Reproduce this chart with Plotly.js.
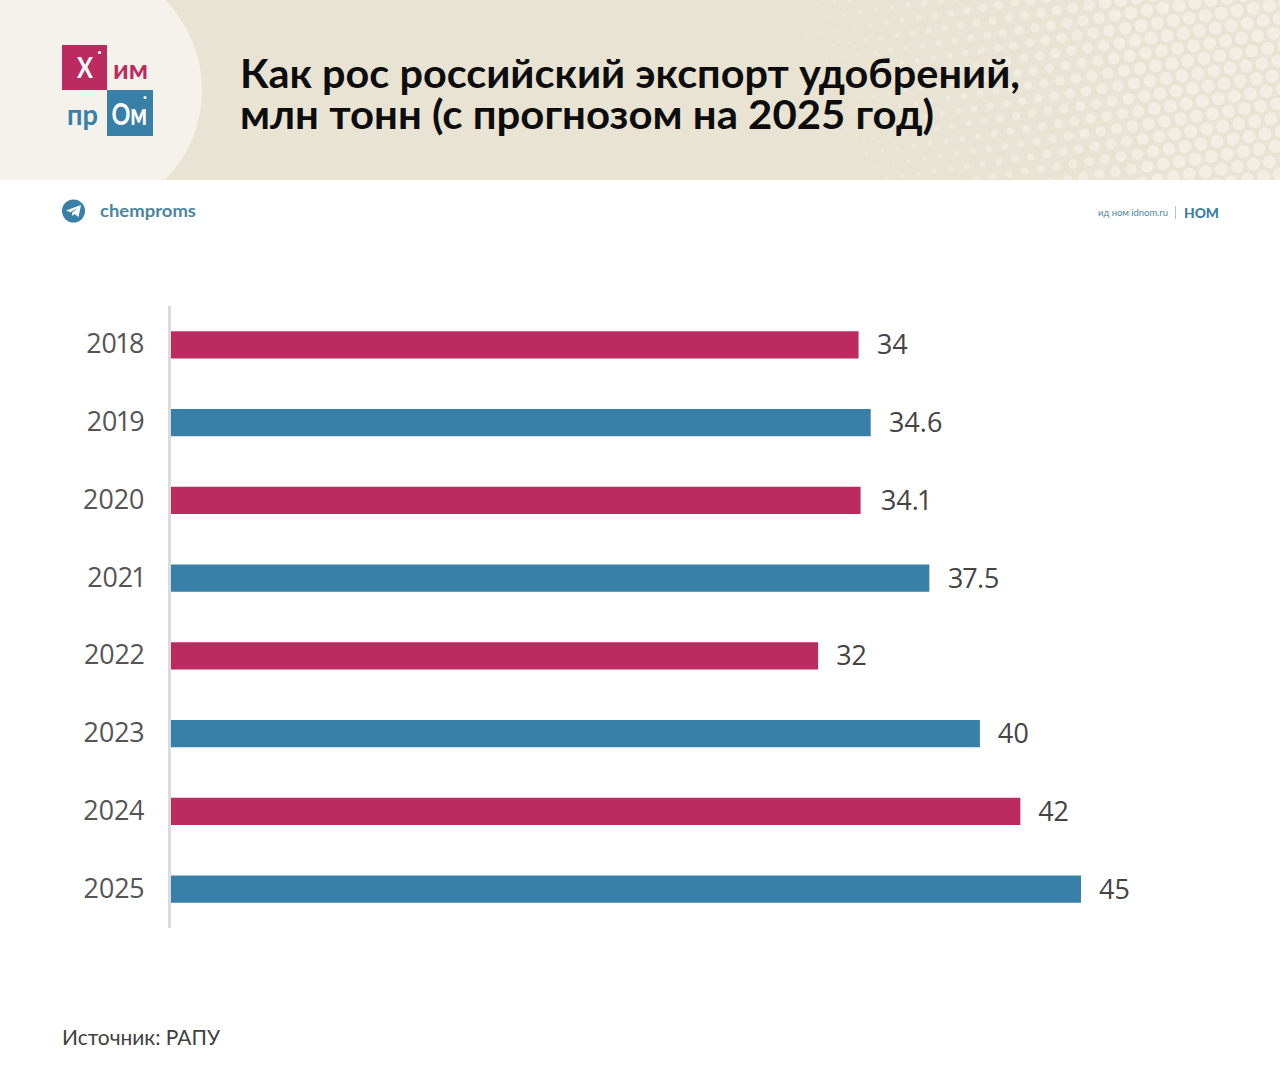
<!DOCTYPE html>
<html>
<head>
<meta charset="utf-8">
<script src="https://cdn.plot.ly/plotly-3.0.1.min.js"></script>
<style>
  html, body { margin: 0; padding: 0; background: #fff; }
  #page { position: relative; width: 1280px; height: 1079px; overflow: hidden; }
  #bg, #graph-div { position: absolute; left: 0; top: 0; width: 1280px; height: 1079px; }
  #bg text { font-family: "Lato", sans-serif; }
  #graph-div text { font-variant-numeric: proportional-nums; font-feature-settings: "pnum" 1; }
</style>
</head>
<body>
<div id="page">
  <svg id="bg" xmlns="http://www.w3.org/2000/svg" width="1280" height="1079" viewBox="0 0 1280 1079">
    <defs><filter id="soft"><feGaussianBlur stdDeviation="0.7"/></filter></defs>
    <rect x="0" y="0" width="1280" height="180" fill="#e9e3d3"/>
    <g id="dots" filter="url(#soft)"></g>
    <circle cx="74" cy="90" r="128" fill="#f5f2ec"/>
    <rect x="0" y="180" width="1280" height="899" fill="#fff"/>

    <rect x="62" y="45" width="45" height="45" fill="#bc2b60"/>
    <rect x="107" y="90" width="46" height="46" fill="#3880a8"/>
    <circle cx="99.5" cy="52.5" r="1.6" fill="#fff"/>
    <circle cx="145" cy="97.5" r="1.6" fill="#fff"/>
    <text x="77" y="78" font-size="29" font-weight="700" fill="#fff" textLength="16" lengthAdjust="spacingAndGlyphs">Х</text>
    <text x="113" y="79" font-size="27" font-weight="700" fill="#bc2b60" textLength="35" lengthAdjust="spacingAndGlyphs">им</text>
    <text x="67" y="125" font-size="28" font-weight="700" fill="#3880a8" textLength="31" lengthAdjust="spacingAndGlyphs">пр</text>
    <text x="111.5" y="125" font-size="30" font-weight="700" fill="#fff" textLength="35.5" lengthAdjust="spacingAndGlyphs">Ом</text>

    <text x="240" y="88" font-size="40" font-weight="700" fill="#0d0d0d" textLength="780" lengthAdjust="spacingAndGlyphs">Как рос российский экспорт удобрений,</text>
    <text x="240" y="129" font-size="40" font-weight="700" fill="#0d0d0d" textLength="694" lengthAdjust="spacingAndGlyphs">млн тонн (с прогнозом на 2025 год)</text>

    <circle cx="73.5" cy="211" r="11.5" fill="#3880a8"/>
    <path d="M66 210.5 L81 205 L78.5 217 L74.5 214 L72.5 216 L72 212.8 L78 207.8 L70.5 212.2 Z" fill="#fff"/>
    <text x="100" y="216.5" font-size="16.5" font-weight="700" fill="#4a86a3" textLength="96" lengthAdjust="spacingAndGlyphs">chemproms</text>

    <text x="1098" y="216" font-size="9" fill="#4a86a3" textLength="70" lengthAdjust="spacingAndGlyphs">ид ном idnom.ru</text>
    <rect x="1175" y="206" width="1" height="13" fill="#a9c4d2"/>
    <text x="1184" y="218" font-size="14" font-weight="900" fill="#3880a8" textLength="35" lengthAdjust="spacingAndGlyphs">НОМ</text>

    <text x="62" y="1045" font-size="21" fill="#3f3f3f" textLength="158" lengthAdjust="spacingAndGlyphs">Источник: РАПУ</text>
  </svg>
  <div id="graph-div"></div>
</div>
<script>
var years = ["2018", "2019", "2020", "2021", "2022", "2023", "2024", "2025"];
var exports_mt = [34, 34.6, 34.1, 37.5, 32, 40, 42, 45];
var value_labels = ["34", "34.6", "34.1", "37.5", "32", "40", "42", "45"];
var crimson = "#bc2b60";
var blue = "#3880a8";

// halftone in the header, grows to the right and fades to the bottom left
var out = "";
for (let i = -60; i < 60; ++i) {
  for (let j = -20; j < 40; ++j) {
    var x = 760 + i * 16 + j * 10.2;
    var y = 0 - i * 2.5 + j * 12.6;
    if (x < 760 || x > 1295 || y < -8 || y > 188) continue;
    var t = Math.min(1, (x - 790 - y * 0.35) / 340);
    if (t <= 0) continue;
    var r = 1 + 5.4 * t;
    out += '<circle cx="' + x.toFixed(1) + '" cy="' + y.toFixed(1) + '" r="' + r.toFixed(2) + '" fill="#f5f2ea" opacity="' + (0.3 + 0.45 * t).toFixed(2) + '"/>';
  }
}
document.getElementById("dots").innerHTML = out;

window.onload = function() {
  var colors = [];
  for (let i = 0; i < years.length; ++i) {
    colors.push(i % 2 == 0 ? crimson : blue);
  }
  var ann = [];
  for (let i = 0; i < years.length; ++i) {
    // numeric-looking categories: annotations need the serial position
    ann.push({
      x: exports_mt[i], y: i, text: value_labels[i], showarrow: false,
      xanchor: "left", xshift: 16, yshift: 1, font: {family: "Open Sans", size: 27, color: "#444"}
    });
  }
  Plotly.newPlot(document.getElementById("graph-div"),
    [{type: "bar", orientation: "h", y: years, x: exports_mt, width: 0.35,
      marker: {color: colors}, hoverinfo: "skip"}],
    {width: 1280, height: 1079,
     margin: {l: 171, r: 109, t: 306, b: 151},
     paper_bgcolor: "rgba(0,0,0,0)", plot_bgcolor: "rgba(0,0,0,0)",
     showlegend: false, annotations: ann,
     xaxis: {range: [0, 49.45], visible: false, fixedrange: true},
     yaxis: {type: "category", categoryorder: "array", categoryarray: years, range: [7.5, -0.5],
             showgrid: false, zeroline: false, showline: true, linecolor: "#d9dbdd", linewidth: 3,
             ticks: "", ticklabelstandoff: 18, fixedrange: true,
             tickfont: {family: "Open Sans", size: 27, color: "#555"}}},
    {displayModeBar: false, responsive: false}).then(function() {
      document.querySelectorAll("#graph-div .ytick text").forEach(function(t) { t.setAttribute("dy", "-1"); });
    });
};
</script>
</body>
</html>
